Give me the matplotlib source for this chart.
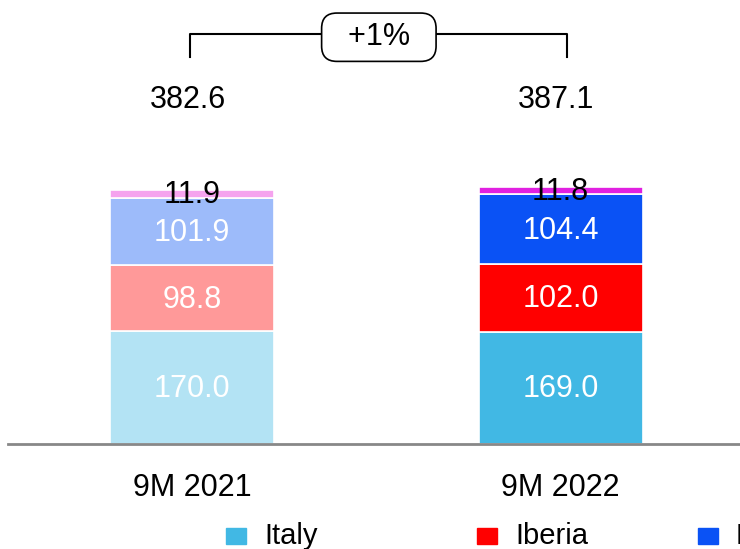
import matplotlib.pyplot as plt
from matplotlib.patches import Rectangle

plt.rcParams['font.family'] = ['Liberation Sans', 'DejaVu Sans']

periods = ["9M 2021", "9M 2022"]
totals = [382.6, 387.1]
series = ["Italy", "Iberia", "Latin America", "Rest of the World"]
values = {
    "Italy": [170.0, 169.0],
    "Iberia": [98.8, 102.0],
    "Latin America": [101.9, 104.4],
    "Rest of the World": [11.9, 11.8],
}
# light shade for 2021, full shade for 2022
colors = {
    "Italy": ["#B3E3F4", "#41B8E4"],
    "Iberia": ["#FF9999", "#FF0000"],
    "Latin America": ["#9DBBFA", "#0A52F5"],
    "Rest of the World": ["#F5A3EE", "#E020E0"],
}
growth = "+1%"

W, H = 740, 549
fig = plt.figure(figsize=(W / 100, H / 100), dpi=100)
# axes: baseline at y=444 px, left at x=8 px
ax = fig.add_axes([8 / W, (H - 444) / H, (W - 8) / W, 444 / H])
ax.set_ylim(0, 668)
ax.set_xlim(-0.4993, 1.487)

x = list(range(len(periods)))
bottoms = [0.0] * len(periods)
for name in series:
    vals = values[name]
    for i in x:
        ax.bar(i, vals[i], width=0.445, bottom=bottoms[i], color=colors[name][i],
               edgecolor="white", linewidth=1.2, zorder=2)
        txt_color = "black" if name == "Rest of the World" else "white"
        ax.text(i, bottoms[i] + vals[i] / 2 - 2, f"{vals[i]:.1f}", ha="center", va="center",
                fontsize=22, color=txt_color, zorder=3)
    bottoms = [b + v for b, v in zip(bottoms, vals)]

# totals sit on one common line above the taller bar
label_y = max(totals) + 130
for i in x:
    ax.text(i - 0.012, label_y, f"{totals[i]:.1f}", ha="center", va="center", fontsize=22)

# growth bracket
yb_top, yb_bot = 616.5, 582
ax.plot([-0.005, -0.005, 1.018, 1.018], [yb_bot, yb_top, yb_top, yb_bot],
        color="black", linewidth=1.5, clip_on=False, zorder=1)
ax.text(0.507, 612, f"  {growth}  ", ha="center", va="center", fontsize=22, zorder=4,
        bbox=dict(boxstyle="round,pad=0.3,rounding_size=0.5", facecolor="white",
                  edgecolor="black", linewidth=1.2))

ax.set_xticks(x)
ax.set_xticklabels(periods, fontsize=22)
ax.tick_params(axis="x", length=0, pad=21)
ax.set_yticks([])
for s in ["top", "right", "left"]:
    ax.spines[s].set_visible(False)
ax.spines["bottom"].set_color("#888888")
ax.spines["bottom"].set_linewidth(2)

# legend row
leg_x = [226, 477, 698]
for name, lx in zip(series, leg_x):
    fig.add_artist(Rectangle((lx / W, (H - 544) / H), 20 / W, 16 / H,
                             transform=fig.transFigure, color=colors[name][1]))
    fig.text((lx + 38) / W, (H - 536) / H, name, fontsize=21, va="center", ha="left")

fig.savefig("out.png", dpi=100)
